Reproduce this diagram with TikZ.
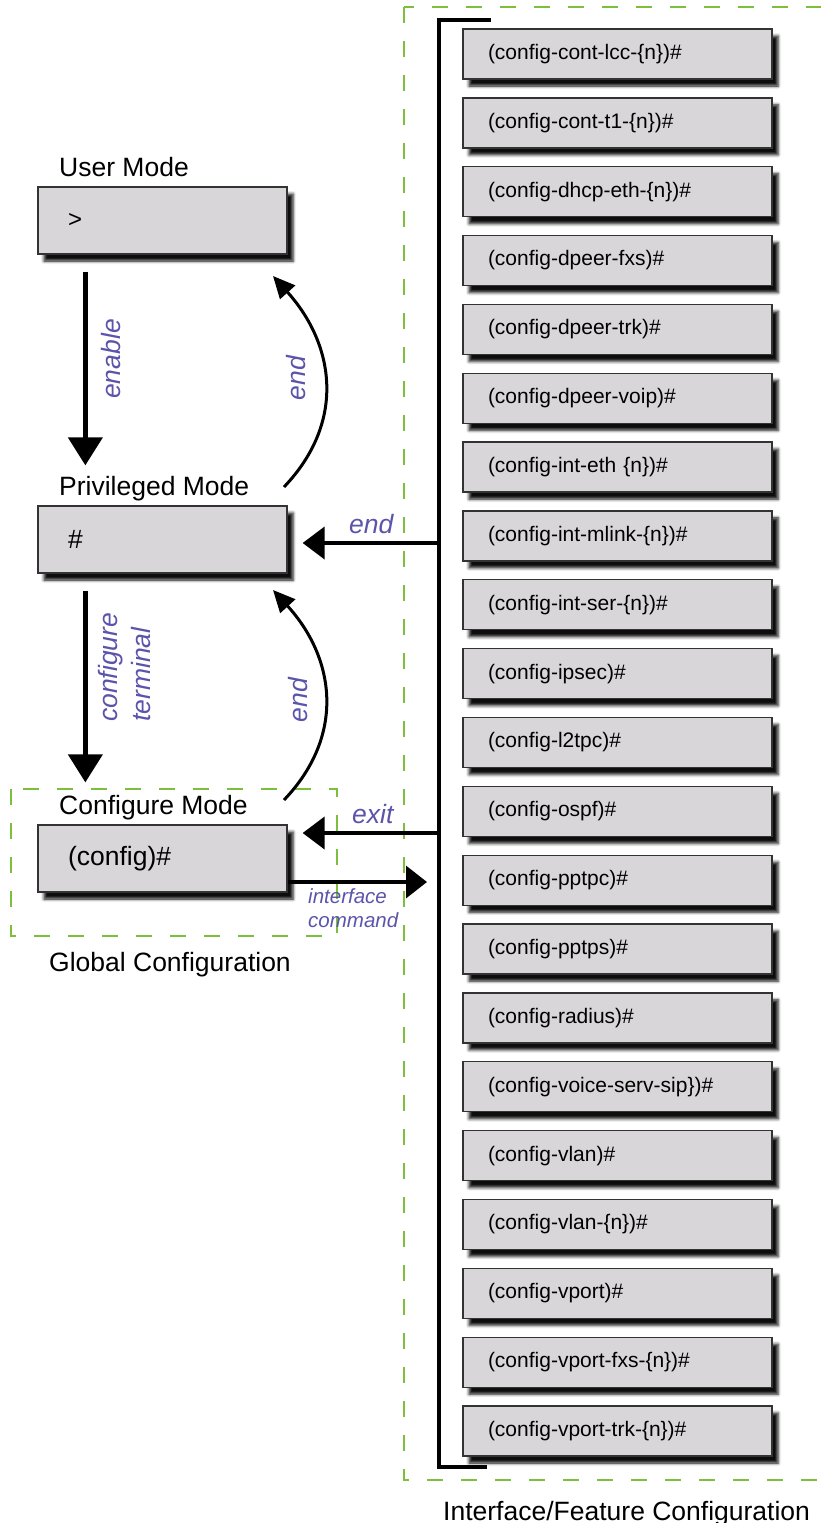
\documentclass[tikz,border=0pt]{standalone}
\usepackage{fontspec}
\setmainfont{Liberation Sans}
\usetikzlibrary{arrows.meta,shadows.blur}
\definecolor{lblue}{RGB}{90,85,170}
\definecolor{dgreen}{RGB}{125,190,60}
\definecolor{boxgray}{RGB}{216,214,216}
\newcommand{\mfont}{\fontsize{26.5}{31}\selectfont}
\newcommand{\bfont}{\fontsize{21}{25}\selectfont}
\newcommand{\sfont}{\fontsize{20.5}{24}\selectfont}
\begin{document}
\begin{tikzpicture}[x=1pt,y=-1pt,
  shadowed/.style={blur shadow={shadow xshift=6pt,shadow yshift=-7pt,shadow blur radius=3pt,shadow opacity=95}},
  modebox/.style={shadowed,draw=black!80,line width=1.3pt,fill=boxgray,minimum height=67pt,
    inner xsep=30pt,text width=189pt,align=left,font=\mfont},
  featbox/.style={shadowed,draw=black!80,line width=1.3pt,fill=boxgray,minimum height=50pt,
    inner xsep=25pt,text width=259pt,align=left,font=\bfont},
  title/.style={font=\mfont,inner sep=0pt,anchor=base west},
  lbl/.style={font=\mfont\itshape,text=lblue,inner sep=0pt},
  slbl/.style={font=\sfont\itshape,text=lblue,inner sep=0pt},
  bigarrow/.style={line width=4.3pt,-{Triangle[length=22pt,width=32pt]}},
  vertarrow/.style={line width=4.3pt,-{Triangle[length=28pt,width=34pt]}},
  curvearrow/.style={line width=3pt,-{Triangle[length=22pt,width=20pt]}},
  frame/.style={dgreen,line width=1.5pt,dash pattern=on 16pt off 18pt}
]
\useasboundingbox (0,0) rectangle (820,1523);

% group frames
\draw[frame] (404,7) rectangle (840,1480);
\draw[frame] (11,789) rectangle (337,936);

% mode boxes
\node[modebox] (user) at (162.5,220.5) {\fontsize{24}{28}\selectfont >};
\node[modebox] (priv) at (162.5,539.5) {\#};
\node[modebox] (conf) at (162.5,858.5) {(config)\#};

% titles
\node[title] (tuser) at (59,176) {User Mode};
\node[title] (tpriv) at (59,495) {Privileged Mode};
\node[title] (tconf) at (59,814) {Configure Mode};
\node[title] (tglob) at (49,971) {Global Configuration};
\node[title] (tint) at (443,1520) {Interface/Feature Configuration};

% feature boxes
\foreach \t [count=\i from 0] in {%
  (config-cont-lcc-\{n\})\#,
  (config-cont-t1-\{n\})\#,
  (config-dhcp-eth-\{n\})\#,
  (config-dpeer-fxs)\#,
  (config-dpeer-trk)\#,
  (config-dpeer-voip)\#,
  (config-int-eth \{n\})\#,
  (config-int-mlink-\{n\})\#,
  (config-int-ser-\{n\})\#,
  (config-ipsec)\#,
  (config-l2tpc)\#,
  (config-ospf)\#,
  (config-pptpc)\#,
  (config-pptps)\#,
  (config-radius)\#,
  (config-voice-serv-sip\})\#,
  (config-vlan)\#,
  (config-vlan-\{n\})\#,
  (config-vport)\#,
  (config-vport-fxs-\{n\})\#,
  (config-vport-trk-\{n\})\#}
  {\node[featbox] (f\i) at (617.5,{54+68.85*\i}) {\t};}

% bracket
\coordinate (brT) at (491,20);
\coordinate (brB) at (487,1467);
\draw[line width=4.5pt] (brT) -- (439,20) -- (439,1467) -- (brB);

% coordinates on the bracket
\coordinate (bEnd) at (439,543);
\coordinate (bExit) at (439,833);
\coordinate (ifTip) at (427,882);

% vertical arrows
\draw[vertarrow,shorten <=17pt,shorten >=40pt] ([xshift=48pt]user.south west) -- ([xshift=48pt]priv.north west);
\draw[vertarrow,shorten <=17pt,shorten >=42pt] ([xshift=48pt]priv.south west) -- ([xshift=48pt]conf.north west);

% curved end arrows
\coordinate (c1s) at (284,487);
\coordinate (c1e) at (273,276);
\coordinate (c2s) at (284,800);
\coordinate (c2e) at (273,590);
\draw[curvearrow] (c1s) .. controls (346,422) and (335,345) .. (c1e);
\draw[curvearrow] (c2s) .. controls (346,735) and (335,658) .. (c2e);

% horizontal arrows
\draw[bigarrow,shorten >=15pt] (bEnd) -- (priv.east |- bEnd);
\draw[bigarrow,shorten >=15pt] (bExit) -- (conf.east |- bExit);
\draw[line width=3.5pt,-{Triangle[length=21pt,width=32pt]}] (conf.east |- ifTip) -- (ifTip);

% labels
\node[lbl,rotate=90,anchor=base] (lenable) at (120,359) {enable};
\node[lbl,rotate=90,anchor=base] (lend1) at (305,378) {end};
\node[lbl,rotate=90,anchor=base] (lend2) at (307,700) {end};
\node[lbl,rotate=90,anchor=north west,align=left,font=\fontsize{26.5}{33}\selectfont\itshape] (lconf) at (98,722) {configure\\terminal};
\node[lbl,anchor=base west] (lend3) at (349,533) {end};
\node[lbl,anchor=base west] (lexit) at (352,823) {exit};
\node[slbl,anchor=north west,align=left] (lif) at (308,888) {interface\\command};
\end{tikzpicture}
\end{document}
